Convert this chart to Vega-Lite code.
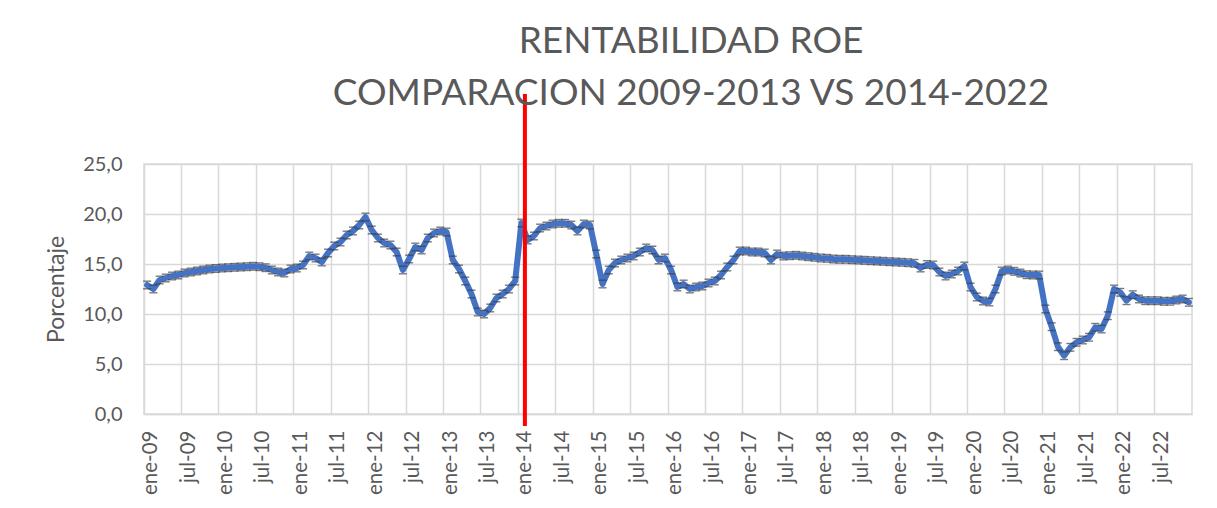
{
  "$schema": "https://vega.github.io/schema/vega-lite/v6.json",
  "width": 1048,
  "height": 250,
  "autosize": {"type": "none"},
  "padding": {"left": 144, "top": 164, "right": 25, "bottom": 94},
  "background": "white",
  "title": {
    "text": ["RENTABILIDAD ROE", "COMPARACION 2009-2013 VS 2014-2022"],
    "font": "Lato",
    "fontSize": 37,
    "fontWeight": "normal",
    "lineHeight": 52,
    "color": "#595959",
    "anchor": "middle",
    "dx": 23,
    "offset": -21
  },
  "config": {
    "view": {"stroke": "#d9d9d9", "strokeWidth": 1.5},
    "font": "Lato"
  },
  "data": {
    "values": [
      {"m": "ene-09", "v": 12.9}, {"m": "feb-09", "v": 12.5}, {"m": "mar-09", "v": 13.4}, {"m": "abr-09", "v": 13.6}, {"m": "may-09", "v": 13.8}, {"m": "jun-09", "v": 13.9}, {"m": "jul-09", "v": 14.1}, {"m": "ago-09", "v": 14.2}, {"m": "sep-09", "v": 14.3}, {"m": "oct-09", "v": 14.4}, {"m": "nov-09", "v": 14.5}, {"m": "dic-09", "v": 14.55},
      {"m": "ene-10", "v": 14.6}, {"m": "feb-10", "v": 14.63}, {"m": "mar-10", "v": 14.67}, {"m": "abr-10", "v": 14.7}, {"m": "may-10", "v": 14.73}, {"m": "jun-10", "v": 14.77}, {"m": "jul-10", "v": 14.73}, {"m": "ago-10", "v": 14.63}, {"m": "sep-10", "v": 14.4}, {"m": "oct-10", "v": 14.2}, {"m": "nov-10", "v": 14.1}, {"m": "dic-10", "v": 14.5},
      {"m": "ene-11", "v": 14.6}, {"m": "feb-11", "v": 14.9}, {"m": "mar-11", "v": 15.8}, {"m": "abr-11", "v": 15.6}, {"m": "may-11", "v": 15.2}, {"m": "jun-11", "v": 16.1}, {"m": "jul-11", "v": 16.8}, {"m": "ago-11", "v": 17.2}, {"m": "sep-11", "v": 17.9}, {"m": "oct-11", "v": 18.3}, {"m": "nov-11", "v": 18.9}, {"m": "dic-11", "v": 19.7},
      {"m": "ene-12", "v": 18.4}, {"m": "feb-12", "v": 17.6}, {"m": "mar-12", "v": 17.1}, {"m": "abr-12", "v": 16.9}, {"m": "may-12", "v": 16.2}, {"m": "jun-12", "v": 14.4}, {"m": "jul-12", "v": 15.5}, {"m": "ago-12", "v": 16.7}, {"m": "sep-12", "v": 16.4}, {"m": "oct-12", "v": 17.6}, {"m": "nov-12", "v": 18.1}, {"m": "dic-12", "v": 18.3},
      {"m": "ene-13", "v": 18.2}, {"m": "feb-13", "v": 15.4}, {"m": "mar-13", "v": 14.5}, {"m": "abr-13", "v": 13.3}, {"m": "may-13", "v": 12.0}, {"m": "jun-13", "v": 10.2}, {"m": "jul-13", "v": 10.0}, {"m": "ago-13", "v": 10.6}, {"m": "sep-13", "v": 11.6}, {"m": "oct-13", "v": 12.0}, {"m": "nov-13", "v": 12.5}, {"m": "dic-13", "v": 13.3},
      {"m": "ene-14", "v": 19.1}, {"m": "feb-14", "v": 17.4}, {"m": "mar-14", "v": 17.8}, {"m": "abr-14", "v": 18.6}, {"m": "may-14", "v": 18.8}, {"m": "jun-14", "v": 19.0}, {"m": "jul-14", "v": 19.07}, {"m": "ago-14", "v": 19.07}, {"m": "sep-14", "v": 18.9}, {"m": "oct-14", "v": 18.3}, {"m": "nov-14", "v": 19.0}, {"m": "dic-14", "v": 18.9},
      {"m": "ene-15", "v": 16.0}, {"m": "feb-15", "v": 13.0}, {"m": "mar-15", "v": 14.4}, {"m": "abr-15", "v": 15.1}, {"m": "may-15", "v": 15.4}, {"m": "jun-15", "v": 15.6}, {"m": "jul-15", "v": 15.8}, {"m": "ago-15", "v": 16.2}, {"m": "sep-15", "v": 16.6}, {"m": "oct-15", "v": 16.4}, {"m": "nov-15", "v": 15.4}, {"m": "dic-15", "v": 15.6},
      {"m": "ene-16", "v": 14.4}, {"m": "feb-16", "v": 12.7}, {"m": "mar-16", "v": 13.0}, {"m": "abr-16", "v": 12.5}, {"m": "may-16", "v": 12.7}, {"m": "jun-16", "v": 12.8}, {"m": "jul-16", "v": 13.1}, {"m": "ago-16", "v": 13.3}, {"m": "sep-16", "v": 13.9}, {"m": "oct-16", "v": 14.7}, {"m": "nov-16", "v": 15.4}, {"m": "dic-16", "v": 16.3},
      {"m": "ene-17", "v": 16.3}, {"m": "feb-17", "v": 16.2}, {"m": "mar-17", "v": 16.2}, {"m": "abr-17", "v": 16.1}, {"m": "may-17", "v": 15.4}, {"m": "jun-17", "v": 16.0}, {"m": "jul-17", "v": 15.8}, {"m": "ago-17", "v": 15.83}, {"m": "sep-17", "v": 15.87}, {"m": "oct-17", "v": 15.8}, {"m": "nov-17", "v": 15.73}, {"m": "dic-17", "v": 15.67},
      {"m": "ene-18", "v": 15.6}, {"m": "feb-18", "v": 15.57}, {"m": "mar-18", "v": 15.5}, {"m": "abr-18", "v": 15.47}, {"m": "may-18", "v": 15.47}, {"m": "jun-18", "v": 15.43}, {"m": "jul-18", "v": 15.4}, {"m": "ago-18", "v": 15.37}, {"m": "sep-18", "v": 15.33}, {"m": "oct-18", "v": 15.3}, {"m": "nov-18", "v": 15.27}, {"m": "dic-18", "v": 15.23},
      {"m": "ene-19", "v": 15.2}, {"m": "feb-19", "v": 15.17}, {"m": "mar-19", "v": 15.13}, {"m": "abr-19", "v": 15.07}, {"m": "may-19", "v": 14.6}, {"m": "jun-19", "v": 14.95}, {"m": "jul-19", "v": 14.9}, {"m": "ago-19", "v": 14.2}, {"m": "sep-19", "v": 13.8}, {"m": "oct-19", "v": 14.0}, {"m": "nov-19", "v": 14.3}, {"m": "dic-19", "v": 14.8},
      {"m": "ene-20", "v": 12.7}, {"m": "feb-20", "v": 11.7}, {"m": "mar-20", "v": 11.3}, {"m": "abr-20", "v": 11.2}, {"m": "may-20", "v": 12.5}, {"m": "jun-20", "v": 14.3}, {"m": "jul-20", "v": 14.4}, {"m": "ago-20", "v": 14.27}, {"m": "sep-20", "v": 14.1}, {"m": "oct-20", "v": 13.93}, {"m": "nov-20", "v": 13.9}, {"m": "dic-20", "v": 13.9},
      {"m": "ene-21", "v": 10.5}, {"m": "feb-21", "v": 8.73}, {"m": "mar-21", "v": 6.73}, {"m": "abr-21", "v": 5.83}, {"m": "may-21", "v": 6.67}, {"m": "jun-21", "v": 7.17}, {"m": "jul-21", "v": 7.4}, {"m": "ago-21", "v": 7.67}, {"m": "sep-21", "v": 8.67}, {"m": "oct-21", "v": 8.5}, {"m": "nov-21", "v": 9.83}, {"m": "dic-21", "v": 12.5},
      {"m": "ene-22", "v": 12.17}, {"m": "feb-22", "v": 11.33}, {"m": "mar-22", "v": 11.93}, {"m": "abr-22", "v": 11.5}, {"m": "may-22", "v": 11.33}, {"m": "jun-22", "v": 11.33}, {"m": "jul-22", "v": 11.33}, {"m": "ago-22", "v": 11.27}, {"m": "sep-22", "v": 11.27}, {"m": "oct-22", "v": 11.4}, {"m": "nov-22", "v": 11.5}, {"m": "dic-22", "v": 11.17}
    ]
  },
  "layer": [
    {
      "mark": {"type": "line", "color": "#4472C4", "strokeWidth": 6, "strokeJoin": "round", "strokeCap": "round"},
      "encoding": {
        "x": {
          "field": "m", "type": "ordinal", "sort": null,
          "scale": {"type": "band", "paddingInner": 0, "paddingOuter": 0},
          "axis": {
            "title": null,
            "values": ["ene-09","jul-09","ene-10","jul-10","ene-11","jul-11","ene-12","jul-12","ene-13","jul-13","ene-14","jul-14","ene-15","jul-15","ene-16","jul-16","ene-17","jul-17","ene-18","jul-18","ene-19","jul-19","ene-20","jul-20","ene-21","jul-21","ene-22","jul-22"],
            "bandPosition": 0,
            "labelOffset": 4,
            "labelAngle": -90,
            "labelFont": "Lato",
            "labelFontSize": 20.5,
            "labelColor": "#595959",
            "labelPadding": 16,
            "labelOverlap": false,
            "ticks": false,
            "grid": true,
            "gridColor": "#d9d9d9",
            "gridWidth": 1.5,
            "domainColor": "#d9d9d9",
            "domainWidth": 1.5
          }
        },
        "y": {
          "field": "v", "type": "quantitative",
          "scale": {"domain": [0, 25], "nice": false, "zero": true},
          "axis": {
            "title": "Porcentaje",
            "titleFont": "Lato",
            "titleFontSize": 23,
            "titleFontWeight": "normal",
            "titleColor": "#595959",
            "titlePadding": 14,
            "values": [0, 5, 10, 15, 20, 25],
            "labelExpr": "replace(format(datum.value, '.1f'), '.', ',')",
            "labelFont": "Lato",
            "labelFontSize": 20,
            "labelColor": "#595959",
            "labelPadding": 22,
            "ticks": false,
            "domain": false,
            "grid": true,
            "gridColor": "#d9d9d9",
            "gridWidth": 1.5
          }
        }
      }
    },
    {
      "mark": {"type": "tick", "color": "#404040", "thickness": 1.4, "size": 8, "yOffset": -3.8},
      "encoding": {
        "x": {"field": "m", "type": "ordinal", "sort": null},
        "y": {"field": "v", "type": "quantitative"}
      }
    },
    {
      "mark": {"type": "tick", "color": "#404040", "thickness": 1.4, "size": 8, "yOffset": 3.8},
      "encoding": {
        "x": {"field": "m", "type": "ordinal", "sort": null},
        "y": {"field": "v", "type": "quantitative"}
      }
    },
    {
      "data": {"values": [{"m": "ene-14", "top": 32.0, "bottom": -1.2}]},
      "mark": {"type": "rule", "color": "#FF0000", "strokeWidth": 4, "xOffset": 3.5},
      "encoding": {
        "x": {"field": "m", "type": "ordinal", "sort": null},
        "y": {"field": "top", "type": "quantitative"},
        "y2": {"field": "bottom"}
      }
    }
  ]
}
